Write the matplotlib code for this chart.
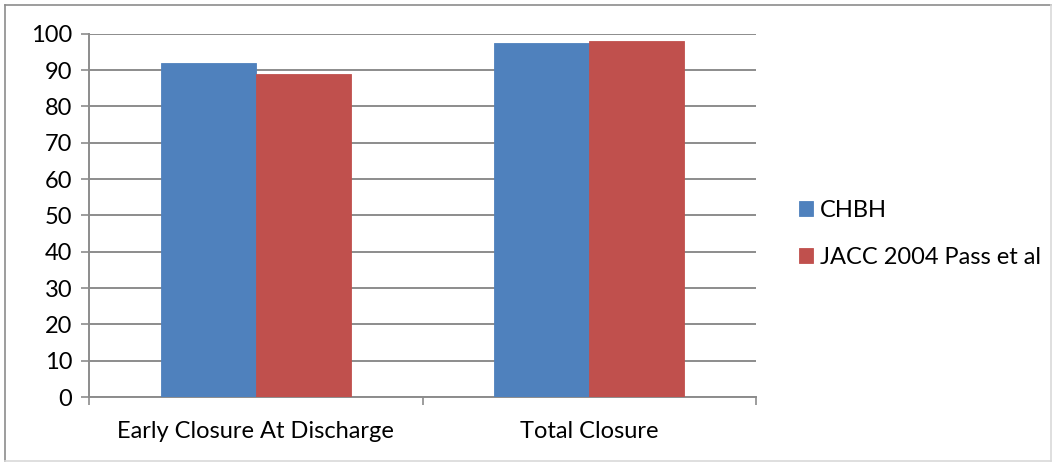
import matplotlib
matplotlib.use("Agg")
import matplotlib.pyplot as plt
from matplotlib.lines import Line2D
import numpy as np

categories = ["Early Closure At Discharge", "Total Closure"]
series_names = ["CHBH", "JACC 2004 Pass et al"]
chbh = [92, 97.5]
jacc = [89, 98]
colors = ["#4F81BD", "#C0504D"]
y_ticks = [0, 10, 20, 30, 40, 50, 60, 70, 80, 90, 100]

plt.rcParams["font.family"] = ["Lato", "DejaVu Sans"]
FS = 17

W, H = 1056, 462
fig = plt.figure(figsize=(W / 100, H / 100), dpi=100)
ax = fig.add_axes([89 / W, 1 - 397 / H, (756 - 89) / W, (397 - 33.7) / H])

x = np.arange(len(categories))
bw = 95 / 333
for i, (vals, c) in enumerate(zip([chbh, jacc], colors)):
    ax.bar(x + (i - 0.5) * bw, vals, width=bw, color=c, edgecolor=c,
           linewidth=0.6, label=series_names[i], zorder=3)

ax.set_xlim(-0.5, 1.5)
ax.set_ylim(0, 100)
ax.set_yticks(y_ticks)
ax.set_yticklabels([str(t) for t in y_ticks], fontsize=FS)
ax.yaxis.grid(True, color="#8c8c8c", linewidth=1.4, zorder=0)
ax.set_axisbelow(True)

# category boundary ticks with labels centered between them
ax.set_xticks([-0.5, 0.5, 1.5])
ax.set_xticklabels([])
ax.set_xticks(x, minor=True)
ax.set_xticklabels(categories, minor=True, fontsize=FS)
ax.tick_params(axis="x", which="minor", length=0, pad=17)
ax.tick_params(axis="x", which="major", length=6, width=1.2, color="#8c8c8c")
ax.tick_params(axis="y", length=6, width=1.2, color="#8c8c8c", pad=6)

for s in ["top", "right"]:
    ax.spines[s].set_visible(False)
for s in ["left", "bottom"]:
    ax.spines[s].set_color("#8c8c8c")
    ax.spines[s].set_linewidth(1.4)

leg = fig.legend(loc="upper left", bbox_to_anchor=(799 / W, 1 - 200 / H),
                 frameon=False, fontsize=FS, handlelength=0.6,
                 handleheight=0.6, handletextpad=0.3, labelspacing=1.1,
                 borderaxespad=0, borderpad=0)

# outer chart border
fig.add_artist(Line2D([5 / W, 5 / W], [1 - 4.5 / H, 1 - 460.5 / H],
                      transform=fig.transFigure, color="#8c8c8c", lw=1.2))
fig.add_artist(Line2D([5 / W, 1051 / W], [1 - 4.5 / H, 1 - 4.5 / H],
                      transform=fig.transFigure, color="#8c8c8c", lw=1.2))
fig.add_artist(Line2D([1051 / W, 1051 / W], [1 - 4.5 / H, 1 - 460.5 / H],
                      transform=fig.transFigure, color="#d9d9d9", lw=1.2))
fig.add_artist(Line2D([5 / W, 1051 / W], [1 - 460.5 / H, 1 - 460.5 / H],
                      transform=fig.transFigure, color="#d9d9d9", lw=1.2))

fig.savefig("out.png", dpi=100)
